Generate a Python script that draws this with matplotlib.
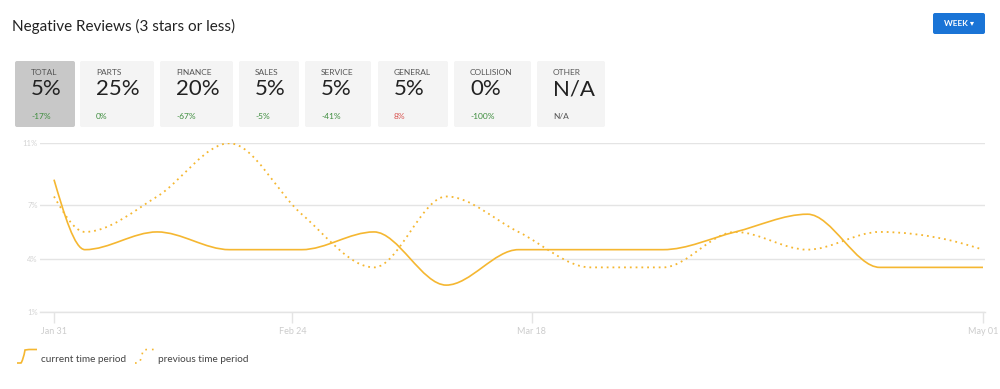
import numpy as np
import matplotlib.pyplot as plt
from matplotlib.path import Path
from matplotlib.patches import PathPatch, FancyBboxPatch

plt.rcParams['font.family'] = ['Lato', 'DejaVu Sans']

# summary cards
card_names = ["TOTAL", "PARTS", "FINANCE", "SALES", "SERVICE", "GENERAL", "COLLISION", "OTHER"]
card_values = ["5%", "25%", "20%", "5%", "5%", "5%", "0%", "N/A"]
card_changes = ["-17%", "0%", "-67%", "-5%", "-41%", "8%", "-100%", "N/A"]

# weekly series (days after Jan 31), values in %
days = [0, 3, 10, 17, 24, 31, 38, 45, 52, 59, 66, 73, 80, 87, 90]
current = [8.45, 4.5, 5.5, 4.5, 4.5, 5.5, 2.5, 4.5, 4.5, 4.5, 5.5, 6.5, 3.5, 3.5, 3.5]
previous = [7.5, 5.5, 7.5, 10.5, 6.5, 3.5, 7.5, 5.5, 3.5, 3.5, 5.5, 4.5, 5.5, 5.0, 4.5]

x_ticks = [0, 23.1, 46.3, 90]
x_labels = ["Jan 31", "Feb 24", "Mar 18", "May 01"]
y_ticks = [1, 4, 7, 10.5]
y_labels = ["1%", "4%", "7%", "11%"]

LINE = "#f5b731"


def monotone_path(xs, ys):
    ## same shape as d3 curveMonotoneX: cubic bezier segments
    xs = np.asarray(xs, float)
    ys = np.asarray(ys, float)
    n = len(xs)
    t = np.zeros(n)
    for i in range(1, n - 1):
        h0 = xs[i] - xs[i - 1]
        h1 = xs[i + 1] - xs[i]
        s0 = (ys[i] - ys[i - 1]) / h0
        s1 = (ys[i + 1] - ys[i]) / h1
        p = (s0 * h1 + s1 * h0) / (h0 + h1)
        t[i] = (np.sign(s0) + np.sign(s1)) * min(abs(s0), abs(s1), 0.5 * abs(p))
    t[0] = (3 * (ys[1] - ys[0]) / (xs[1] - xs[0]) - t[1]) / 2
    t[-1] = (3 * (ys[-1] - ys[-2]) / (xs[-1] - xs[-2]) - t[-2]) / 2
    verts = [(xs[0], ys[0])]
    codes = [Path.MOVETO]
    for i in range(n - 1):
        dx = (xs[i + 1] - xs[i]) / 3
        verts += [(xs[i] + dx, ys[i] + t[i] * dx),
                  (xs[i + 1] - dx, ys[i + 1] - t[i + 1] * dx),
                  (xs[i + 1], ys[i + 1])]
        codes += [Path.CURVE4] * 3
    return Path(verts, codes)


fig = plt.figure(figsize=(10, 3.89), dpi=100)

# overlay in pixel coords for the header, cards and legend
bg = fig.add_axes([0, 0, 1, 1])
bg.set_xlim(0, 1000)
bg.set_ylim(389, 0)
bg.axis("off")

bg.text(12, 26, "Negative Reviews (3 stars or less)", fontsize=11, color="#222222", va="center")

bg.add_patch(FancyBboxPatch((933, 13), 52, 21, boxstyle="round,pad=0,rounding_size=2",
                            fc="#1a74d6", ec="none"))
bg.text(959, 23.5, "WEEK ▾", fontsize=6, color="white", fontweight="bold", ha="center", va="center")

card_x = [15, 80, 160, 239, 305, 378, 454, 537]
card_w = [60, 74, 73, 60, 66, 70, 77, 68]
for i in range(len(card_names)):
    fc = "#c8c8c8" if i == 0 else "#f4f4f4"
    bg.add_patch(FancyBboxPatch((card_x[i], 61), card_w[i], 66, boxstyle="round,pad=0,rounding_size=2",
                                fc=fc, ec="none"))
    tx = card_x[i] + 16
    bg.text(tx, 72.5, card_names[i], fontsize=6, color="#555555", va="center")
    bg.text(tx, 89, card_values[i], fontsize=16, color="#222222", va="center")
    ch = card_changes[i]
    if ch == "N/A":
        col = "#555555"
    elif ch.startswith("-") or ch == "0%":
        col = "#3c8c3c"
    else:
        col = "#d9534f"
    bg.text(tx, 116, ch, fontsize=6, color=col, va="center")

# legend icons
def legend_icon(x0, ls):
    verts = [(x0, 363), (x0 + 4, 363), (x0 + 5, 362), (x0 + 7, 356), (x0 + 8, 350),
             (x0 + 12, 349.5), (x0 + 20, 349.5)]
    codes = [Path.MOVETO, Path.LINETO, Path.CURVE4, Path.CURVE4, Path.CURVE4, Path.LINETO, Path.LINETO]
    bg.add_patch(PathPatch(Path(verts, codes), fc="none", ec=LINE, lw=1.2, ls=ls))

legend_icon(17, "-")
bg.text(41, 359, "current time period", fontsize=7.2, color="#444444", va="center")
legend_icon(135, (0, (1, 3)))
bg.text(158, 359, "previous time period", fontsize=7.2, color="#444444", va="center")

# chart
px_day = (983 - 54) / 90
left_px, right_px = 40, 985
top_px, bot_px = 143.3, 311.7
ax = fig.add_axes([left_px / 1000, 1 - bot_px / 389, (right_px - left_px) / 1000, (bot_px - top_px) / 389])
ax.patch.set_alpha(0)
ax.set_xlim(-(54 - left_px) / px_day, 90 + (right_px - 983) / px_day)
ax.set_ylim(1, 10.5)

ax.add_patch(PathPatch(monotone_path(days, current), fc="none", ec=LINE, lw=1.2, zorder=3))
ax.add_patch(PathPatch(monotone_path(days, previous), fc="none", ec=LINE, lw=1.3,
                       ls=(0, (1, 2.2)), zorder=3))

ax.set_yticks(y_ticks)
ax.set_yticklabels(y_labels)
ax.set_xticks(x_ticks)
ax.set_xticklabels(x_labels)
ax.grid(axis="y", color="#e4e4e4", lw=1)
for s in ["left", "top", "right"]:
    ax.spines[s].set_visible(False)
ax.spines["bottom"].set_color("#e4e4e4")
ax.spines["bottom"].set_linewidth(1)
ax.tick_params(axis="y", length=0, pad=1.5, labelsize=5.5, labelcolor="#d4d4d4")
ax.tick_params(axis="x", length=8, width=1, color="#e4e4e4", pad=3, labelsize=6.5, labelcolor="#cccccc")

fig.savefig("out.png", dpi=100)
